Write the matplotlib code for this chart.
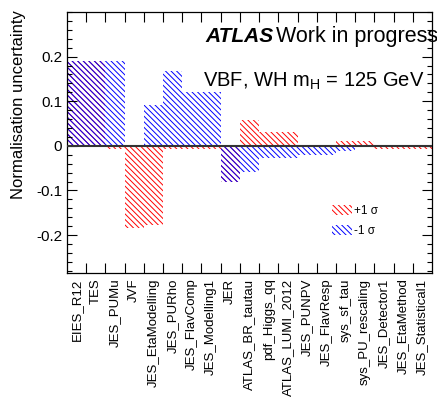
import numpy as np
import matplotlib
matplotlib.use("Agg")
import matplotlib.pyplot as plt
from matplotlib.ticker import MultipleLocator, FixedLocator, FixedFormatter, NullFormatter

plt.rcParams['font.family'] = ['Liberation Sans', 'DejaVu Sans']
plt.rcParams['mathtext.fontset'] = 'custom'
plt.rcParams['mathtext.rm'] = 'Liberation Sans'
plt.rcParams['mathtext.it'] = 'Liberation Sans:italic'
plt.rcParams['hatch.linewidth'] = 0.7

categories = ["EIES_R12", "TES", "JES_PUMu", "JVF", "JES_EtaModelling", "JES_PURho",
              "JES_FlavComp", "JES_Modelling1", "JER", "ATLAS_BR_tautau", "pdf_Higgs_qq",
              "ATLAS_LUMI_2012", "JES_PUNPV", "JES_FlavResp", "sys_sf_tau",
              "sys_PU_rescaling", "JES_Detector1", "JES_EtaMethod", "JES_Statistical1"]
up_values = [0.19, 0.19, -0.007, -0.184, -0.177, -0.007, -0.007, -0.007, -0.082, 0.058,
             0.030, 0.030, 0.002, 0.002, 0.011, 0.011, -0.007, -0.007, -0.007]
down_values = [0.19, 0.19, 0.19, 0.0, 0.092, 0.168, 0.121, 0.121, -0.082, -0.058,
               -0.027, -0.027, -0.021, -0.021, -0.011, 0.0, 0.0, 0.0, 0.0]
legend_labels = ["+1 \u03c3", "-1 \u03c3"]

W, H = 437, 409
fig = plt.figure(figsize=(W / 100, H / 100), dpi=100)
ax = fig.add_axes([67 / W, 1 - 273 / H, (432 - 67) / W, (273 - 12) / H])

x = np.arange(len(categories))
hatch = '\\' * 6
b_up = ax.bar(x, up_values, width=1.0, align='edge', facecolor='none',
              edgecolor='#ff0000', linewidth=0, hatch=hatch, label=legend_labels[0])
b_dn = ax.bar(x, down_values, width=1.0, align='edge', facecolor='none',
              edgecolor='#0000ff', linewidth=0, hatch=hatch, label=legend_labels[1])
ax.axhline(0, color='#333333', lw=1.5, zorder=3)

ax.set_xlim(0, len(categories))
ax.set_ylim(-0.285, 0.30)

ax.xaxis.set_major_locator(FixedLocator(np.arange(1, len(categories))))
ax.xaxis.set_major_formatter(NullFormatter())
ax.xaxis.set_minor_locator(FixedLocator(x + 0.5))
ax.xaxis.set_minor_formatter(FixedFormatter(categories))
ax.tick_params(axis='x', which='major', direction='in', length=7, width=0.8,
               top=True, bottom=True)
ax.tick_params(axis='x', which='minor', length=0, labelsize=9.5, labelrotation=90, pad=4)

ax.yaxis.set_major_locator(MultipleLocator(0.1))
ax.yaxis.set_minor_locator(MultipleLocator(0.02))
ax.set_yticks([-0.2, -0.1, 0, 0.1, 0.2])
ax.set_yticklabels(["-0.2", "-0.1", "0", "0.1", "0.2"])
ax.tick_params(axis='y', which='major', direction='in', length=7, width=0.8,
               left=True, right=True, labelsize=11)
ax.tick_params(axis='y', which='minor', direction='in', length=3.5, width=0.8,
               left=True, right=True)
for s in ax.spines.values():
    s.set_linewidth(0.9)

ax.set_ylabel("Normalisation uncertainty", fontsize=12, loc='top')
ax.yaxis.set_label_coords(-0.112, 1.008)

fig.text(205 / W, 1 - 42 / H, "ATLAS", fontsize=15, fontweight='bold',
         fontstyle='italic', ha='left', va='baseline')
fig.text(276 / W, 1 - 42 / H, "Work in progress", fontsize=15.5, ha='left', va='baseline')
fig.text(203 / W, 1 - 87 / H, r"VBF, WH m$_{\mathregular{H}}$ = 125 GeV", fontsize=14.5,
         ha='left', va='baseline')

ax.legend(handles=[b_up, b_dn], loc='upper left',
          bbox_to_anchor=(332 / W, 1 - 205 / H), bbox_transform=fig.transFigure,
          frameon=False, fontsize=8.5, handlelength=1.7, handleheight=0.9,
          labelspacing=0.7, handletextpad=0.15, borderpad=0, borderaxespad=0)

fig.savefig("out.png", dpi=100)
